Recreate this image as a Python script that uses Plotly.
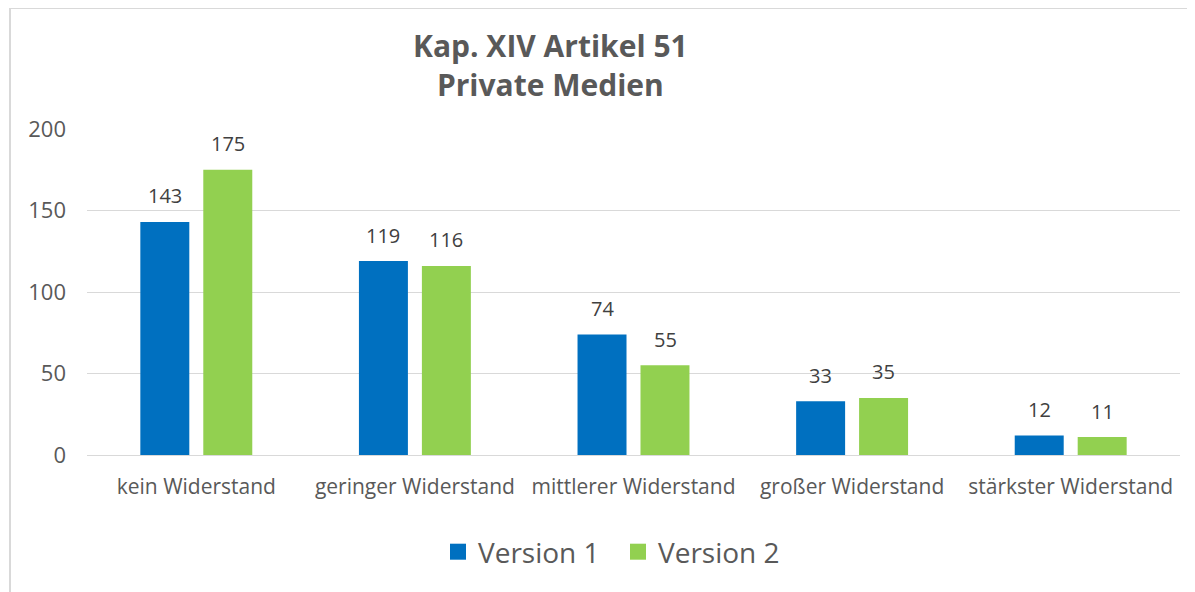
import plotly.graph_objects as go

categories = ["kein Widerstand", "geringer Widerstand", "mittlerer Widerstand", "großer Widerstand", "stärkster Widerstand"]
version1 = [143, 119, 74, 33, 12]
version2 = [175, 116, 55, 35, 11]
series_names = ["Version 1", "Version 2"]
colors = ["#0070C0", "#92D050"]
y_ticks = [0, 50, 100, 150, 200]

W, H = 1195, 592
OFF = 8  # page body margin
ml, mr, mt, mb = 87 - OFF, 1195 - (1180 - OFF), 129 - OFF, 592 - (455 - OFF)
pw, ph = W - ml - mr, H - mt - mb

FONT = "Open Sans"
fig = go.Figure()
shifts = [-31.5, 31.5]
annotations = []
for name, vals, col, sh in zip(series_names, [version1, version2], colors, shifts):
    fig.add_trace(go.Bar(
        x=categories, y=vals, name=name, showlegend=False,
        marker=dict(color=col, line=dict(width=0)),
    ))
    for c, v in zip(categories, vals):
        annotations.append(dict(x=c, y=v, xref="x", yref="y", text=str(v), showarrow=False,
                                xshift=sh, yshift=26, xanchor="center", yanchor="middle",
                                font=dict(family=FONT, size=20, color="#404040")))
for name, col in zip(series_names, colors):
    fig.add_trace(go.Scatter(x=[None], y=[None], mode="markers", name=name,
                             marker=dict(symbol="square", size=18, color=col)))

def px_x(p):
    return (p - OFF - ml) / pw

def px_y(p):
    return (H - mb - (p - OFF)) / ph

annotations.append(dict(text="Kap. XIV Artikel 51<br>Private Medien", xref="paper", yref="paper",
                        x=px_x(550), y=px_y(65), xanchor="center", yanchor="middle", showarrow=False,
                        font=dict(family=FONT, size=30, color="#595959", weight="bold")))

fig.update_layout(
    width=W, height=H,
    margin=dict(l=ml, r=mr, t=mt, b=mb, autoexpand=False),
    paper_bgcolor="white", plot_bgcolor="white",
    barmode="group", bargap=0.424, bargroupgap=0.222,
    font=dict(family=FONT, color="#595959"),
    legend=dict(orientation="h", x=px_x(618), xanchor="center", y=px_y(552), yanchor="middle",
                font=dict(family=FONT, size=28, color="#595959"), itemwidth=30,
                entrywidth=135, traceorder="normal"),
    showlegend=True,
    annotations=annotations,
    shapes=[dict(type="rect", xref="paper", yref="paper",
                 x0=px_x(10), x1=px_x(1215), y0=px_y(620), y1=px_y(8),
                 line=dict(color="#d9d9d9", width=2), fillcolor="rgba(0,0,0,0)", layer="below")],
)
fig.update_yaxes(range=[0, 200], tickvals=y_ticks, showgrid=True, gridcolor="#d9d9d9", gridwidth=1,
                 zeroline=True, zerolinecolor="#d9d9d9", zerolinewidth=1,
                 tickfont=dict(family=FONT, size=22, color="#595959"), ticks="", ticklabelstandoff=20)
fig.update_xaxes(showline=False, ticks="", tickfont=dict(family=FONT, size=21, color="#595959"),
                 ticklabelstandoff=17)
fig.write_html("out.html")
